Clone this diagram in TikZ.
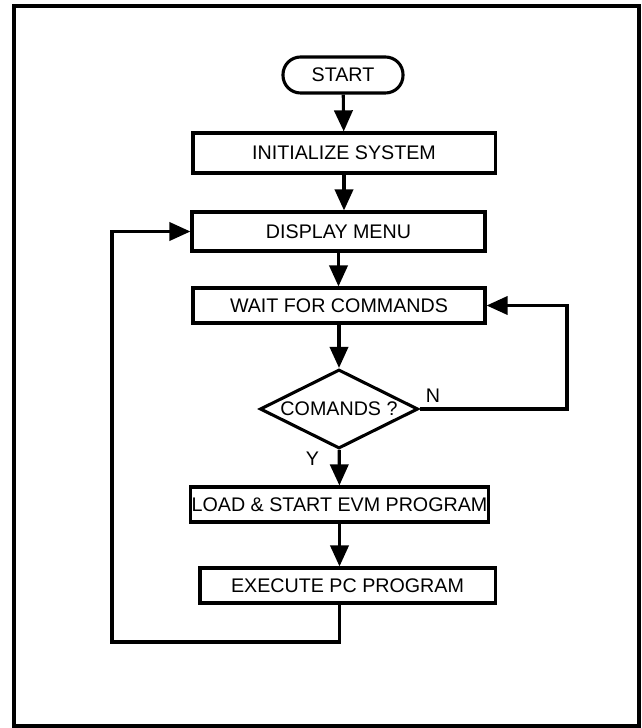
\documentclass[tikz,border=0pt]{standalone}
\usepackage{fontspec}
\setmainfont{Liberation Sans}
\usepackage{tikz}
\usetikzlibrary{shapes.geometric,arrows.meta,positioning}

\begin{document}
\begin{tikzpicture}[x=0.025cm,y=-0.025cm,
  font=\fontsize{14}{16}\selectfont,
  line width=2.2pt,
  box/.style={draw,inner sep=1pt,minimum height=0.9cm,align=center},
  term/.style={draw,rounded corners=0.44cm,minimum width=3cm,minimum height=0.9cm},
  decide/.style={draw,diamond,shape aspect=2,inner sep=0pt,minimum width=3.95cm,minimum height=1.975cm},
  arr/.style={-{Triangle[length=15pt,width=13pt]}},
  frame/.style={draw,line width=2.4pt}]
\useasboundingbox (0,0) rectangle (641,728);
\draw[frame] (14,6) rectangle (639,726);
\node[term] (start) at (343,75) {START};
\node[box,minimum width=7.55cm,minimum height=1cm] (init) at (344,153) {INITIALIZE SYSTEM};
\node[box,minimum width=7.325cm,minimum height=0.975cm] (disp) at (338.5,231.5) {DISPLAY MENU};
\node[box,minimum width=7.3cm,minimum height=0.875cm] (wait) at (339,305.5) {WAIT FOR COMMANDS};
\node[decide] (dec) at (339,409) {COMANDS ?};
\node[box,minimum width=7.375cm,minimum height=0.875cm] (load) at (339.5,504.5) {LOAD \& START EVM PROGRAM};
\node[box,minimum width=7.375cm,minimum height=0.875cm] (exec) at (347.5,585.5) {EXECUTE PC PROGRAM};
\coordinate (nr) at (567,305.5);
\coordinate (bl) at (112,642);
\draw[arr] (start) -- (init);
\draw[arr] (init) -- (init |- disp.north);
\draw[arr] (disp) -- (disp |- wait.north);
\draw[arr] (wait) -- (dec);
\draw[arr] (dec) -- node[pos=0.25,left=10pt]{Y} (load);
\draw[arr] (load) -- (load |- exec.north);
\draw[arr] (dec.east) node[above right]{N} -| (nr) -- (wait.east);
\draw[arr] (exec.south -| load) |- (bl) |- (disp.west);
\end{tikzpicture}
\end{document}
